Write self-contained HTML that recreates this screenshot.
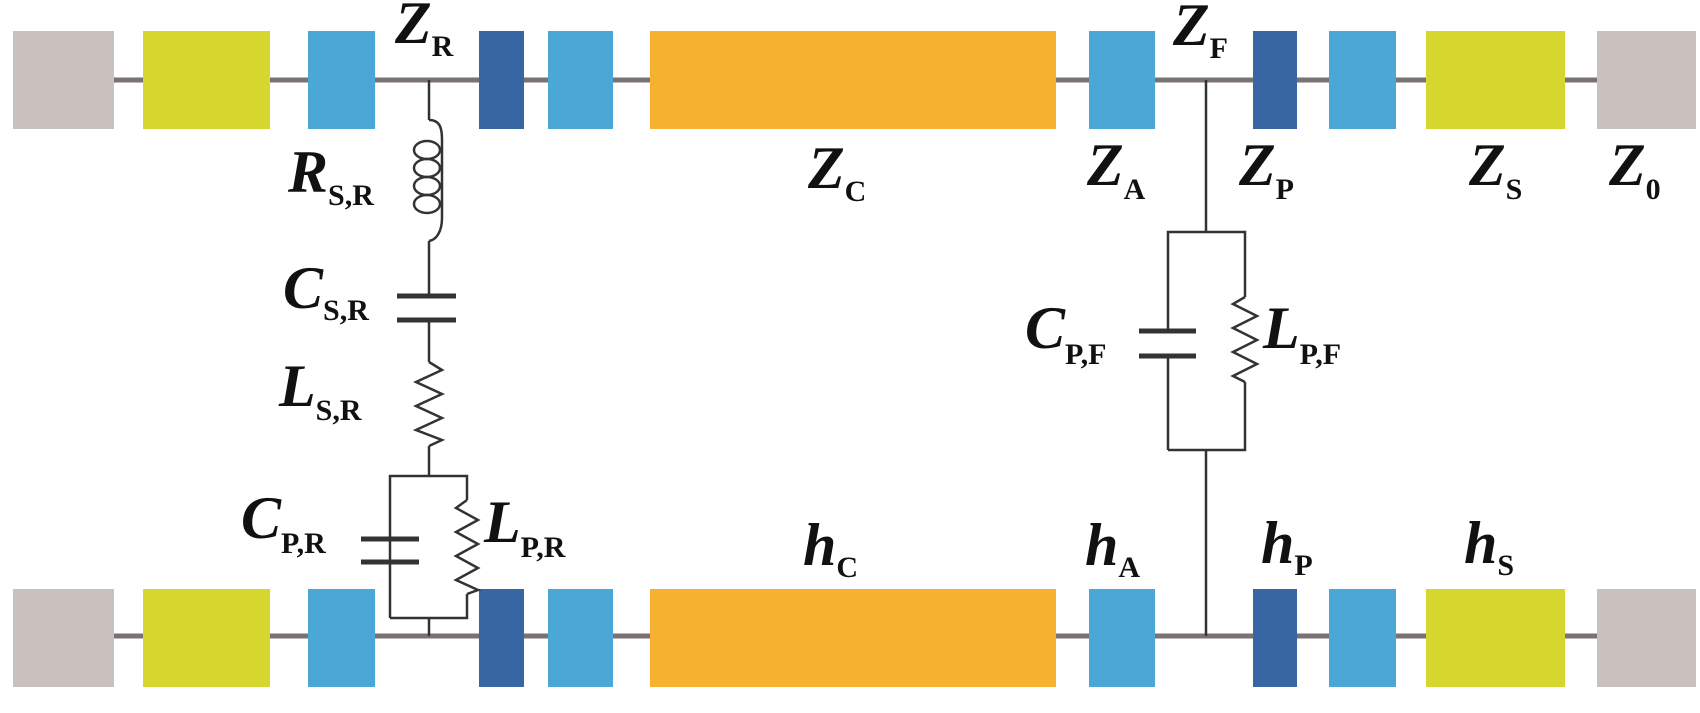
<!DOCTYPE html>
<html><head><meta charset="utf-8"><style>
html,body{margin:0;padding:0;background:#fff;}
svg{display:block}
text{font-family:"Liberation Serif",serif;fill:#111;}
.m{font-style:italic;font-size:60px;font-weight:bold;}
.s{font-size:30px;font-style:normal;font-weight:bold;}
</style></head><body>
<svg width="1700" height="713" viewBox="0 0 1700 713" xmlns="http://www.w3.org/2000/svg">
<g stroke="#7a7272" stroke-width="5">
<line x1="13" y1="80" x2="1696" y2="80"/>
<line x1="13" y1="636" x2="1696" y2="636"/>
</g>
<g id="row">
<rect x="13" y="31" width="101" height="98" fill="#c9c1be"/>
<rect x="143" y="31" width="127" height="98" fill="#d5d62e"/>
<rect x="308" y="31" width="67" height="98" fill="#4ba8d6"/>
<rect x="479" y="31" width="45" height="98" fill="#3866a3"/>
<rect x="548" y="31" width="65" height="98" fill="#4ba8d6"/>
<rect x="650" y="31" width="406" height="98" fill="#f7b131"/>
<rect x="1089" y="31" width="66" height="98" fill="#4ba8d6"/>
<rect x="1253" y="31" width="44" height="98" fill="#3866a3"/>
<rect x="1329" y="31" width="67" height="98" fill="#4ba8d6"/>
<rect x="1426" y="31" width="139" height="98" fill="#d5d62e"/>
<rect x="1597" y="31" width="99" height="98" fill="#c9c1be"/>
</g>
<use href="#row" y="558"/>
<g stroke="#333" stroke-width="2.5" fill="none">
<!-- left branch -->
<line x1="429" y1="80" x2="429" y2="120"/>
<path d="M429 120 C440 120 442 128 442 140 L442 218 C442 232 436 240 429 241"/>
<ellipse cx="427" cy="150" rx="13" ry="9"/>
<ellipse cx="427" cy="168" rx="13" ry="9"/>
<ellipse cx="427" cy="186" rx="13" ry="9"/>
<ellipse cx="427" cy="204" rx="13" ry="9"/>
<line x1="429" y1="241" x2="429" y2="296"/>
<line x1="429" y1="320" x2="429" y2="362"/>
<line x1="397" y1="296" x2="456" y2="296" stroke-width="5"/>
<line x1="397" y1="320" x2="456" y2="320" stroke-width="5"/>
<polyline points="429,362 442,370 416,382 442,394 416,406 442,418 416,430 442,440 429,446"/>
<line x1="429" y1="446" x2="429" y2="476"/>
<polyline points="390,618 390,476 467,476 467,500"/>
<line x1="361" y1="539" x2="419" y2="539" stroke-width="5"/>
<line x1="361" y1="562" x2="419" y2="562" stroke-width="5"/>
<polyline points="467,500 456,508 478,520 456,532 478,544 456,556 478,568 456,580 478,590 467,594"/>
<polyline points="467,594 467,618 390,618"/>
<line x1="429" y1="618" x2="429" y2="636"/>
<!-- right branch -->
<line x1="1206" y1="80" x2="1206" y2="232"/>
<polyline points="1168,331 1168,232 1245,232 1245,297"/>
<line x1="1168" y1="356" x2="1168" y2="450"/>
<line x1="1139" y1="331" x2="1196" y2="331" stroke-width="5"/>
<line x1="1139" y1="356" x2="1196" y2="356" stroke-width="5"/>
<polyline points="1245,297 1233,304 1257,316 1233,328 1257,340 1233,352 1257,364 1233,376 1245,382"/>
<polyline points="1245,382 1245,450 1168,450"/>
<line x1="1206" y1="450" x2="1206" y2="636"/>
</g>
<g>
<text x="395" y="43" class="m">Z<tspan class="s" dy="13">R</tspan></text>
<text x="288" y="192" class="m">R<tspan class="s" dy="13">S,R</tspan></text>
<text x="283" y="308" class="m">C<tspan class="s" dy="12">S,R</tspan></text>
<text x="279" y="406" class="m">L<tspan class="s" dy="14">S,R</tspan></text>
<text x="241" y="538" class="m">C<tspan class="s" dy="15">P,R</tspan></text>
<text x="484" y="542" class="m">L<tspan class="s" dy="15">P,R</tspan></text>
<text x="808" y="188" class="m">Z<tspan class="s" dy="13">C</tspan></text>
<text x="803" y="565" class="m">h<tspan class="s" dy="12">C</tspan></text>
<text x="1173" y="45" class="m">Z<tspan class="s" dy="13">F</tspan></text>
<text x="1087" y="185" class="m">Z<tspan class="s" dy="14">A</tspan></text>
<text x="1239" y="185" class="m">Z<tspan class="s" dy="14">P</tspan></text>
<text x="1469" y="185" class="m">Z<tspan class="s" dy="14">S</tspan></text>
<text x="1609" y="185" class="m">Z<tspan class="s" dy="14">0</tspan></text>
<text x="1025" y="348" class="m">C<tspan class="s" dy="16">P,F</tspan></text>
<text x="1263" y="348" class="m">L<tspan class="s" dy="16">P,F</tspan></text>
<text x="1085" y="565" class="m">h<tspan class="s" dy="12">A</tspan></text>
<text x="1261" y="563" class="m">h<tspan class="s" dy="12">P</tspan></text>
<text x="1464" y="563" class="m">h<tspan class="s" dy="12">S</tspan></text>
</g>
</svg>
</body></html>
